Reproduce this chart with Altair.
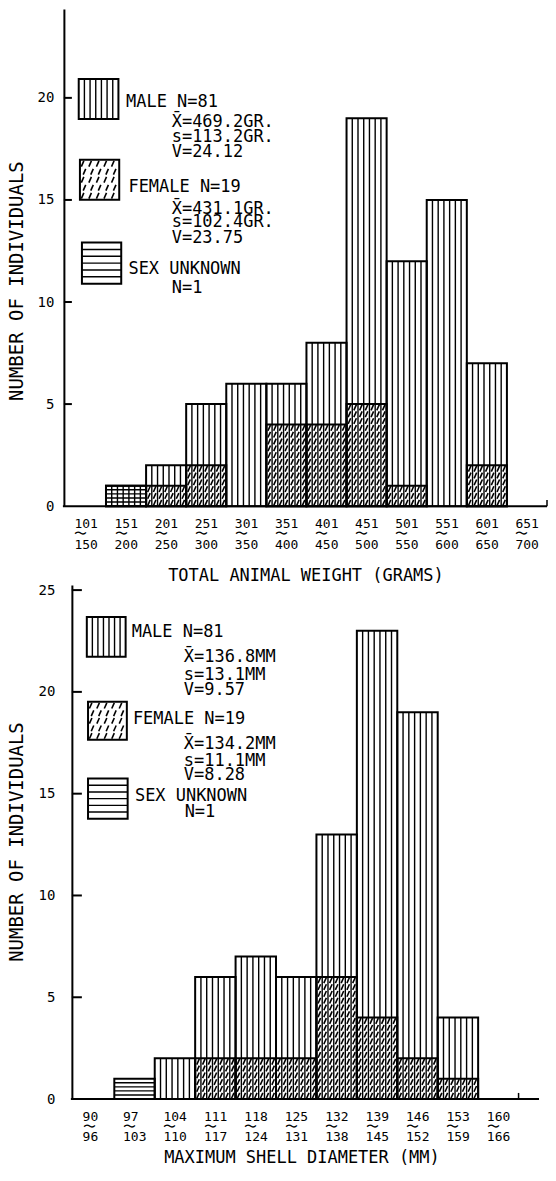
import json
import altair as alt
import pandas as pd

FONT = "DejaVu Sans Mono"
NB = "\u00a0"

# ---------------- Top panel: total animal weight (grams) ----------------
w_low = ["101", "151", "201", "251", "301", "351", "401", "451", "501", "551", "601", "651"]
w_high = ["150", "200", "250", "300", "350", "400", "450", "500", "550", "600", "650", "700"]
w_male = [0, 1, 2, 5, 6, 6, 8, 19, 12, 15, 7, 0]
w_female = [0, 0, 1, 2, 0, 4, 4, 5, 1, 0, 2, 0]
w_unknown = [0, 1, 0, 0, 0, 0, 0, 0, 0, 0, 0, 0]
w_legend_text = ["MALE N=81", "X\u0304=469.2GR.", "s=113.2GR.", "V=24.12",
                 "FEMALE N=19", "X\u0304=431.1GR.", "s=102.4GR.", "V=23.75",
                 "SEX UNKNOWN", "N=1"]
w_yticks = [0, 5, 10, 15, 20]

# ---------------- Bottom panel: maximum shell diameter (mm) ----------------
d_low = ["90", "97", "104", "111", "118", "125", "132", "139", "146", "153", "160"]
d_high = ["96", "103", "110", "117", "124", "131", "138", "145", "152", "159", "166"]
d_male = [0, 0, 2, 6, 7, 6, 13, 23, 19, 4, 0]
d_female = [0, 0, 0, 2, 2, 2, 6, 4, 2, 1, 0]
d_unknown = [0, 1, 0, 0, 0, 0, 0, 0, 0, 0, 0]
d_legend_text = ["MALE N=81", "X\u0304=136.8MM", "s=13.1MM", "V=9.57",
                 "FEMALE N=19", "X\u0304=134.2MM", "s=11.1MM", "V=8.28",
                 "SEX UNKNOWN", "N=1"]
d_yticks = [0, 5, 10, 15, 20, 25]

# ---------------- layout (legend placement in data units, panel geometry) ----------------
w_layout = dict(
    text_xy=[(1.5, 19.8), (2.64, 18.83), (2.64, 18.07), (2.64, 17.34),
             (1.56, 15.65), (2.64, 14.57), (2.64, 13.91), (2.64, 13.13),
             (1.56, 11.61), (2.64, 10.7)],
    boxes=[(0.32, 1.31, 18.97, 20.93), (0.35, 1.33, 15.01, 16.97), (0.40, 1.38, 10.9, 12.91)],
    xdom=[-0.05, 12.0], ymax=24.35, W=484, H=498, y_offset=0,
    lab_pad_y=10, title_x=-47, title_y=272, tick_len=8, x_title_pad=16,
)
d_layout = dict(
    text_xy=[(1.43, 22.92), (2.72, 21.72), (2.72, 20.83), (2.72, 20.07),
             (1.46, 18.68), (2.72, 17.45), (2.72, 16.62), (2.72, 15.9),
             (1.51, 14.88), (2.74, 14.09)],
    boxes=[(0.32, 1.28, 21.72, 23.68), (0.35, 1.31, 17.65, 19.51), (0.35, 1.33, 13.77, 15.74)],
    xdom=[-0.247, 11.506], ymax=25.25, W=476, H=515, y_offset=-8,
    lab_pad_y=17, title_x=-55, title_y=257, tick_len=10, x_title_pad=6,
)


def panel(low, high, male, female, unknown, legend_text, yticks, xtitle, L):
    n = len(low)
    rects, vl, hl, dash = [], [], [], []
    for i, m in enumerate(male):
        if m:
            rects.append(dict(x=i, x2=i + 1, y=0, y2=m))
            for k in range(1, 7):
                vl.append(dict(x=i + k / 7, y=0, y2=m))
    for i, f in enumerate(female):
        if f:
            rects.append(dict(x=i, x2=i + 1, y=0, y2=f))
            for j in range(3 * f):
                for k in range(7):
                    dash.append(dict(x=i + (k + 0.5) / 7, y=(j + 0.5) / 3))
    for i, u in enumerate(unknown):
        if u:
            rects.append(dict(x=i, x2=i + 1, y=0, y2=u))
            for j in range(1, 5 * u):
                hl.append(dict(x=i, x2=i + 1, y=j / 5))
    # legend boxes
    (mx0, mx1, my0, my1), (fx0, fx1, fy0, fy1), (ux0, ux1, uy0, uy1) = L["boxes"]
    for (x0, x1, y0, y1) in L["boxes"]:
        rects.append(dict(x=x0, x2=x1, y=y0, y2=y1))
    for k in range(1, 7):
        vl.append(dict(x=mx0 + (mx1 - mx0) * k / 7, y=my0, y2=my1))
    for r in range(5):
        for c in range(5):
            off = 0.25 if r % 2 else 0.0
            dash.append(dict(x=fx0 + (fx1 - fx0) * (c + 0.35 + off) / 5.2,
                             y=fy0 + (fy1 - fy0) * (r + 0.5) / 5))
    for j in range(1, 6):
        hl.append(dict(x=ux0, x2=ux1, y=uy0 + (uy1 - uy0) * j / 6))

    labels = [[lo + NB, NB + "\u301c", NB + hi] for lo, hi in zip(low, high)]
    expr = json.dumps(labels, ensure_ascii=False) + "[floor(datum.value)]"

    xscale = alt.Scale(domain=L["xdom"], nice=False, zero=False)
    yscale = alt.Scale(domain=[0, L["ymax"]], nice=False)
    xaxis = alt.Axis(values=[i + 0.5 for i in range(n)], labelExpr=expr, labelAlign="left",
                     labelOffset=-12, labelLineHeight=10.5, labelFontSize=13, labelPadding=11,
                     labelOverlap=False, labelFlush=False, ticks=False, grid=False,
                     domain=False, labelFont=FONT, titleFont=FONT,
                     title=xtitle, titleFontSize=17, titlePadding=L["x_title_pad"],
                     titleFontWeight="normal")
    yaxis = alt.Axis(values=yticks, ticks=False, grid=False, labelPadding=L["lab_pad_y"],
                     offset=L["y_offset"], labelFont=FONT, titleFont=FONT,
                     labelFontSize=14, title="NUMBER OF INDIVIDUALS", titleFontSize=19,
                     titleFontWeight="normal", titleX=L["title_x"], titleY=L["title_y"],
                     titleBaseline="middle", titleAngle=270)

    X = lambda f: alt.X(f, type="quantitative", scale=xscale, axis=xaxis)
    Y = lambda f: alt.Y(f, type="quantitative", scale=yscale, axis=yaxis)
    ax = -L["y_offset"]

    vlines = alt.Chart(pd.DataFrame(vl)).mark_rule(color="black", strokeWidth=1.4).encode(
        x=X("x"), y=Y("y"), y2="y2")
    hlines = alt.Chart(pd.DataFrame(hl)).mark_rule(color="black", strokeWidth=1.4).encode(
        x=X("x"), x2="x2", y=Y("y"))
    dashes = alt.Chart(pd.DataFrame(dash)).mark_point(
        shape="M-0.4,0.9L0.4,-0.9", filled=False, size=40, strokeWidth=1.6, color="black",
        opacity=1).encode(x=X("x"), y=Y("y"))
    bars = alt.Chart(pd.DataFrame(rects)).mark_rect(
        fill="transparent", stroke="black", strokeWidth=2).encode(
        x=X("x"), x2="x2", y=Y("y"), y2="y2")
    ticks = alt.Chart(pd.DataFrame({"v": [t for t in yticks if t > 0]})).mark_rule(
        color="black", strokeWidth=2).encode(y=Y("v"), x=alt.value(ax),
                                             x2=alt.value(ax + L["tick_len"]))
    baseline = alt.Chart(pd.DataFrame({"v": [0]})).mark_rule(
        color="black", strokeWidth=2).encode(y=Y("v"), x=alt.value(ax - 1), x2=alt.value(L["W"]))
    endtick = alt.Chart(pd.DataFrame({"x": [n], "y": [0], "y2": [0.3]})).mark_rule(
        color="black", strokeWidth=1.5).encode(x=X("x"), y=Y("y"), y2="y2")
    tdf = pd.DataFrame({"t": legend_text,
                        "x": [p[0] for p in L["text_xy"]],
                        "y": [p[1] for p in L["text_xy"]]})
    texts = alt.Chart(tdf).mark_text(align="left", baseline="middle", font=FONT, fontSize=17,
                                     color="black").encode(x=X("x"), y=Y("y"), text="t:N")
    return alt.layer(vlines, hlines, dashes, bars, ticks, baseline, endtick, texts).properties(
        width=L["W"], height=L["H"])


top = panel(w_low, w_high, w_male, w_female, w_unknown, w_legend_text, w_yticks,
            "TOTAL ANIMAL WEIGHT (GRAMS)", w_layout)
bottom = panel(d_low, d_high, d_male, d_female, d_unknown, d_legend_text, d_yticks,
               "MAXIMUM SHELL DIAMETER (MM)", d_layout)

chart = alt.ConcatChart(concat=[top, bottom], columns=1, spacing=0, padding=0,
                        background="white")
chart = chart.configure_view(strokeWidth=0).configure_axis(
    domainColor="black", domainWidth=2, labelColor="black", titleColor="black",
    labelFont=FONT, titleFont=FONT)

chart.save("out.html", embed_options={"renderer": "svg", "actions": False})
